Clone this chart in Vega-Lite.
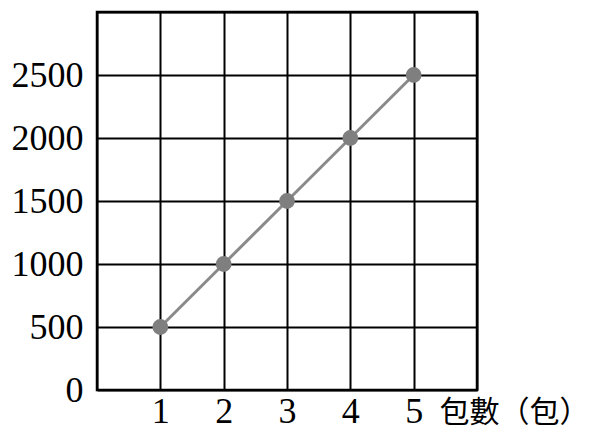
{
  "$schema": "https://vega.github.io/schema/vega-lite/v6.json",
  "autosize": "none",
  "width": 380,
  "height": 378,
  "padding": {"left": 97, "top": 12, "right": 129, "bottom": 41},
  "background": "white",
  "config": {
    "view": {"stroke": "black", "strokeWidth": 2.5},
    "axis": {
      "grid": true,
      "gridColor": "black",
      "gridWidth": 2,
      "gridOpacity": 1,
      "domain": false,
      "ticks": false,
      "labelFont": "Liberation Serif",
      "labelFontSize": 36,
      "labelColor": "black",
      "titleColor": "black"
    }
  },
  "data": {
    "values": [
      {"packs": 1, "weight": 500},
      {"packs": 2, "weight": 1000},
      {"packs": 3, "weight": 1500},
      {"packs": 4, "weight": 2000},
      {"packs": 5, "weight": 2500}
    ]
  },
  "encoding": {
    "x": {
      "field": "packs",
      "type": "quantitative",
      "scale": {"domain": [0, 6], "nice": false, "zero": true},
      "axis": {
        "values": [0, 1, 2, 3, 4, 5, 6],
        "labelExpr": "datum.value >= 1 && datum.value <= 5 ? datum.label : ''",
        "labelPadding": 4,
        "labelBaseline": "top",
        "title": "包數（包）",
        "titleFont": "Noto Sans CJK TC",
        "titleFontSize": 30,
        "titleFontWeight": "normal",
        "titleAnchor": null,
        "titleAlign": "left",
        "titleBaseline": "middle",
        "titleX": 342,
        "titleY": 22
      }
    },
    "y": {
      "field": "weight",
      "type": "quantitative",
      "scale": {"domain": [0, 3000], "nice": false},
      "axis": {
        "values": [0, 500, 1000, 1500, 2000, 2500, 3000],
        "labelExpr": "datum.value < 3000 ? datum.label : ''",
        "format": "d",
        "labelPadding": 14,
        "title": "重量（g）",
        "titleFont": "Liberation Serif",
        "titleFontSize": 30,
        "titleFontWeight": "normal",
        "titleAngle": 0,
        "titleAlign": "left",
        "titleBaseline": "alphabetic",
        "titleX": -45,
        "titleY": -19,
        "titleColor": "#999999"
      }
    }
  },
  "layer": [
    {"mark": {"type": "line", "color": "#8a8a8a", "strokeWidth": 3}},
    {"mark": {"type": "point", "filled": true, "color": "#7f7f7f", "opacity": 1, "size": 250}}
  ]
}
